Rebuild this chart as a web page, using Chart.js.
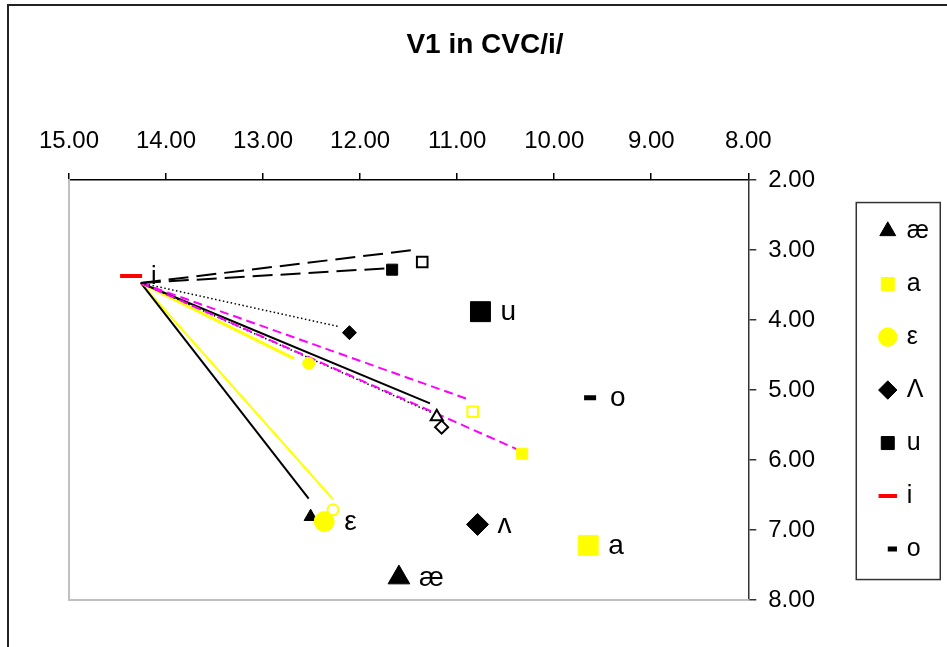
<!DOCTYPE html>
<html>
<head>
<meta charset="utf-8">
<title>V1 in CVC/i/</title>
<script src="https://cdn.jsdelivr.net/npm/chart.js@4.4.1/dist/chart.umd.min.js"></script>
<style>
  html, body { margin: 0; padding: 0; background: #fff; }
  canvas { display: block; }
</style>
</head>
<body>
<canvas id="chart" width="947" height="647"></canvas>
<script>
// vowel targets (big markers, the ones in the legend)
const vowelNames = ['æ', 'a', 'ε', 'Λ', 'u', 'i', 'o'];
const vowelTags = ['æ', 'a', 'ε', 'ʌ', 'u', 'i', 'o'];
const vowelX = [11.60, 9.65, 12.37, 10.79, 10.76, 14.36, 9.63];
const vowelY = [7.68, 7.22, 6.88, 6.92, 3.88, 3.37, 5.11];

// transitions: common start, then one end per line
const startX = 14.26;
const startY = 3.47;
const lineEndX = [11.46, 11.72, 12.23, 10.89, 10.31, 11.28, 11.25, 12.68, 12.53, 12.28];
const lineEndY = [3.00, 3.26, 4.09, 5.13, 5.89, 5.19, 5.33, 4.55, 6.55, 6.56];

// small end markers
const endMarkX = [11.36, 11.67, 12.11, 10.84, 10.33, 11.21, 11.16, 12.53, 12.51, 12.28];
const endMarkY = [3.17, 3.28, 4.18, 5.31, 5.91, 5.38, 5.53, 4.62, 6.81, 6.71];

const xTicks = [15, 14, 13, 12, 11, 10, 9, 8];
const yTicks = [2, 3, 4, 5, 6, 7, 8];

const BLACK = '#000000', YELLOW = '#ffff00', MAGENTA = '#ff00ff', RED = '#ff0000';
const FONT = "'Liberation Sans', Arial, 'DejaVu Sans', sans-serif";

const vowelStyle = [
  { ps: 'triangle', color: BLACK, r: 12.5 },
  { ps: 'rect', color: YELLOW, r: 14.1 },
  { ps: 'circle', color: YELLOW, r: 10 },
  { ps: 'rectRot', color: BLACK, r: 11 },
  { ps: 'rect', color: BLACK, r: 14.1 },
  { ps: 'line', color: RED, r: 11, bw: 4, tagSize: 25 },
  { ps: 'line', color: BLACK, r: 6, bw: 5, legend: 'dash' }
];

const lineStyle = [
  { color: BLACK, width: 2, dash: [20, 8] },
  { color: BLACK, width: 2, dash: [20, 8] },
  { color: BLACK, width: 1.5, dash: [1.5, 2.5] },
  { color: MAGENTA, width: 2, dash: [9, 5] },
  { color: MAGENTA, width: 2, dash: [9, 5] },
  { color: BLACK, width: 2, dash: [] },
  { color: BLACK, width: 1.5, dash: [1.5, 2.5] },
  { color: YELLOW, width: 3, dash: [] },
  { color: BLACK, width: 2, dash: [] },
  { color: YELLOW, width: 2, dash: [] }
];

const markStyle = [
  { ps: 'rect', color: BLACK, fill: false, r: 7.5 },
  { ps: 'rect', color: BLACK, fill: true, r: 7.8 },
  { ps: 'rectRot', color: BLACK, fill: true, r: 7 },
  { ps: 'rect', color: YELLOW, fill: false, r: 7.5 },
  { ps: 'rect', color: YELLOW, fill: true, r: 7.8 },
  { ps: 'triangle', color: BLACK, fill: false, r: 7 },
  { ps: 'rectRot', color: BLACK, fill: false, r: 6.5 },
  { ps: 'circle', color: YELLOW, fill: true, r: 6 },
  { ps: 'triangle', color: BLACK, fill: true, r: 7.5 },
  { ps: 'circle', color: YELLOW, fill: false, r: 5.5 }
];

const datasets = [];

vowelNames.forEach((name, i) => {
  const s = vowelStyle[i];
  datasets.push({
    label: name,
    tag: vowelTags[i],
    tagSize: s.tagSize || 28,
    inLegend: true,
    legendStyle: s.legend,
    data: [{ x: vowelX[i], y: vowelY[i] }],
    pointStyle: s.ps,
    pointRadius: s.r,
    backgroundColor: s.color,
    borderColor: s.color,
    pointBorderWidth: s.bw || 1,
    order: 0
  });
});

lineEndX.forEach((ex, i) => {
  const s = lineStyle[i];
  datasets.push({
    label: 'line' + i,
    data: [{ x: startX, y: startY }, { x: ex, y: lineEndY[i] }],
    showLine: true,
    pointRadius: 0,
    borderColor: s.color,
    borderWidth: s.width,
    borderDash: s.dash,
    fill: false,
    order: 2
  });
});

endMarkX.forEach((mx, i) => {
  const s = markStyle[i];
  datasets.push({
    label: 'end' + i,
    data: [{ x: mx, y: endMarkY[i] }],
    pointStyle: s.ps,
    pointRadius: s.r,
    backgroundColor: s.fill ? s.color : '#ffffff',
    borderColor: s.color,
    pointBorderWidth: s.fill ? 1 : 2,
    order: 1
  });
});

const frame = {
  id: 'frame',
  beforeDraw(chart) {
    const ctx = chart.ctx;
    ctx.save();
    ctx.fillStyle = '#ffffff';
    ctx.fillRect(0, 0, chart.width, chart.height);
    ctx.strokeStyle = '#222';
    ctx.lineWidth = 2;
    ctx.strokeRect(8, 5, 2000, 2000);
    ctx.restore();
  },
  afterDraw(chart) {
    const lg = chart.legend;
    if (!lg || !lg.legendHitBoxes.length) return;
    const hb = lg.legendHitBoxes;
    const left = hb[0].left - 25;
    const top = hb[0].top - 16;
    const bottom = hb[hb.length - 1].top + 43;
    const ctx = chart.ctx;
    ctx.save();
    ctx.strokeStyle = '#333';
    ctx.lineWidth = 1.5;
    ctx.strokeRect(left, top, 84, bottom - top);
    ctx.restore();
  }
};

const tags = {
  id: 'tags',
  afterDatasetsDraw(chart) {
    const ctx = chart.ctx;
    ctx.save();
    ctx.fillStyle = BLACK;
    ctx.textAlign = 'left';
    ctx.textBaseline = 'middle';
    chart.data.datasets.forEach((ds, i) => {
      if (!ds.tag) return;
      const pt = chart.getDatasetMeta(i).data[0];
      ctx.font = ds.tagSize + 'px ' + FONT;
      ctx.fillText(ds.tag, pt.x + 20, pt.y + 1);
    });
    ctx.restore();
  }
};

Chart.defaults.font.family = FONT;
Chart.defaults.color = BLACK;

new Chart(document.getElementById('chart'), {
  type: 'scatter',
  data: { datasets },
  plugins: [frame, tags],
  options: {
    responsive: false,
    animation: false,
    events: [],
    layout: { padding: { left: 31, right: 8, top: 0, bottom: 47 } },
    scales: {
      x: {
        type: 'linear',
        position: 'top',
        reverse: true,
        min: 8,
        max: 15,
        afterBuildTicks: s => { s.ticks = xTicks.map(v => ({ value: v })); },
        afterFit: s => { s.height = 118.5; },
        ticks: {
          autoSkip: false,
          maxRotation: 0,
          padding: 17,
          font: { size: 24 },
          callback: v => Number(v).toFixed(2)
        },
        grid: { drawOnChartArea: false, drawTicks: true, tickLength: 7, color: BLACK, lineWidth: 1.5 },
        border: { color: BLACK, width: 1.5 }
      },
      y: {
        type: 'linear',
        position: 'right',
        reverse: true,
        min: 2,
        max: 8,
        afterBuildTicks: s => { s.ticks = yTicks.map(v => ({ value: v })); },
        afterFit: s => { s.width = 105; },
        ticks: {
          autoSkip: false,
          padding: 12,
          font: { size: 24 },
          callback: v => Number(v).toFixed(2)
        },
        grid: { drawOnChartArea: false, drawTicks: true, tickLength: 8, color: '#333', lineWidth: 1.5 },
        border: { color: '#333', width: 1.5 }
      },
      edgeLeft: {
        type: 'linear',
        axis: 'y',
        position: 'left',
        afterFit: s => { s.width = 38; },
        ticks: { display: false },
        grid: { drawOnChartArea: false, drawTicks: false },
        border: { color: '#c0c0c0', width: 2 }
      },
      edgeBottom: {
        type: 'linear',
        axis: 'x',
        position: 'bottom',
        afterFit: s => { s.height = 0; },
        ticks: { display: false },
        grid: { drawOnChartArea: false, drawTicks: false },
        border: { color: '#c0c0c0', width: 2 }
      }
    },
    plugins: {
      title: {
        display: true,
        text: 'V1 in CVC/i/',
        color: BLACK,
        font: { size: 28, weight: 'bold' },
        padding: { top: 28, bottom: 0 }
      },
      legend: {
        display: true,
        position: 'right',
        fullSize: false,
        labels: {
          usePointStyle: true,
          boxWidth: 13,
          boxHeight: 13,
          padding: 28,
          color: BLACK,
          font: { size: 25 },
          filter: (item, data) => !!data.datasets[item.datasetIndex].inLegend,
          generateLabels(chart) {
            const items = Chart.defaults.plugins.legend.labels.generateLabels(chart);
            items.forEach(it => {
              const ds = chart.data.datasets[it.datasetIndex];
              if (ds.legendStyle) it.pointStyle = ds.legendStyle;
            });
            return items;
          }
        }
      },
      tooltip: { enabled: false }
    }
  }
});
</script>
</body>
</html>
